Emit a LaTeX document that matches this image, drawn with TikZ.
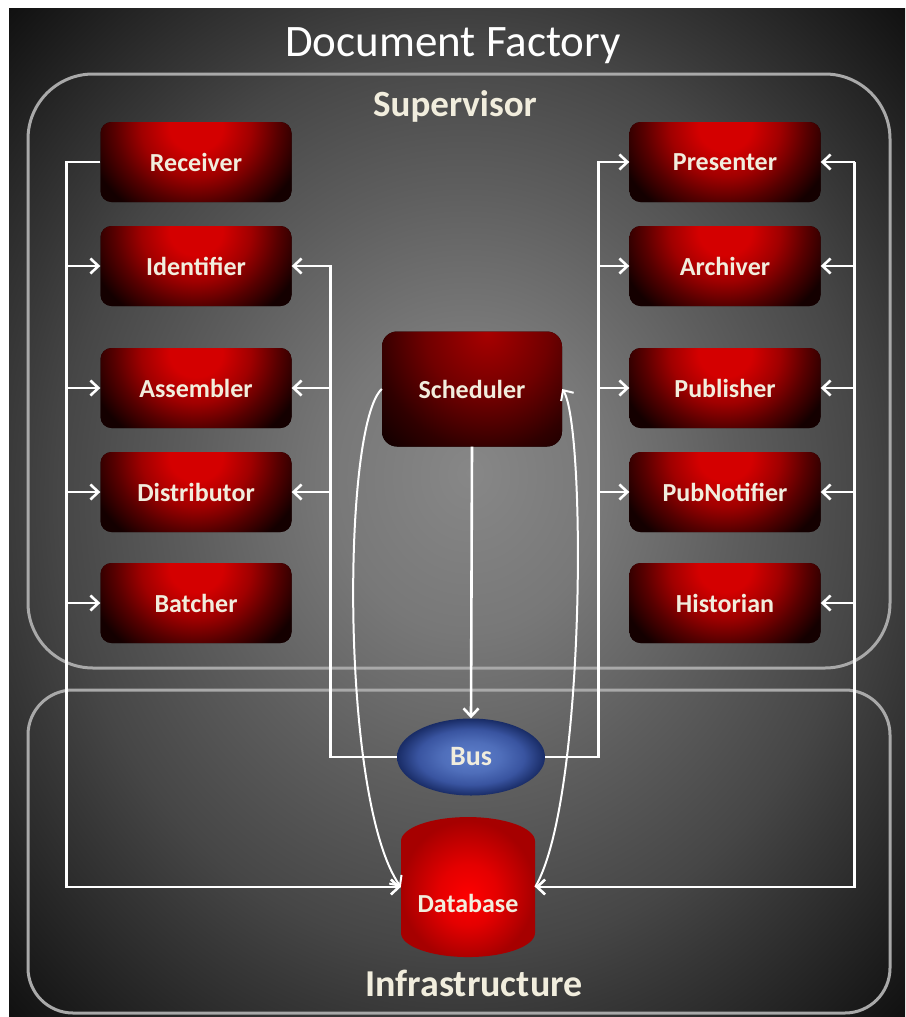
\documentclass[tikz,border=0pt]{standalone}
\usepackage{fontspec}
\setmainfont{Carlito}
\usetikzlibrary{arrows.meta,shapes.geometric}

\definecolor{bgIn}{HTML}{878787}
\definecolor{bgMid}{HTML}{787878}
\definecolor{bgOut}{HTML}{5E5E5E}
\definecolor{bgEdge}{HTML}{464646}
\definecolor{bgRim}{HTML}{373737}
\definecolor{bgCorner}{HTML}{0E0E0E}
\definecolor{frameGray}{HTML}{A9A9A9}
\definecolor{labelCream}{HTML}{F1EDDD}
\definecolor{agentHi}{HTML}{D40000}
\definecolor{agentMid}{HTML}{A00000}
\definecolor{agentLo}{HTML}{580000}
\definecolor{agentDeep}{HTML}{140000}
\definecolor{schedHi}{HTML}{A80000}
\definecolor{schedMid}{HTML}{700000}
\definecolor{schedLo}{HTML}{300000}
\definecolor{schedDeep}{HTML}{0C0000}
\definecolor{busHi}{HTML}{5D7ECA}
\definecolor{busMid}{HTML}{4F6EBA}
\definecolor{busLo}{HTML}{3954A0}
\definecolor{busDeep}{HTML}{192C66}
\definecolor{dbHi}{HTML}{FF0000}
\definecolor{dbMid}{HTML}{E40000}
\definecolor{dbLo}{HTML}{A60000}

% shadings (the 50bp square in the middle covers the path)
\pgfdeclareradialshading{bgShade}{\pgfpoint{0.75bp}{2bp}}{color(0bp)=(bgIn); color(7.5bp)=(bgMid); color(15bp)=(bgOut); color(22.5bp)=(bgEdge); color(26bp)=(bgRim); color(36bp)=(bgCorner)}
\pgfdeclareradialshading{agentGlow}{\pgfpoint{0bp}{0bp}}{color(0bp)=(agentHi); color(6bp)=(agentHi); color(12.5bp)=(agentMid); color(18.5bp)=(agentLo); color(25bp)=(agentDeep); color(36bp)=(agentDeep)}
\pgfdeclareradialshading{schedGlow}{\pgfpoint{0bp}{0bp}}{color(0bp)=(schedHi); color(10bp)=(schedMid); color(18bp)=(schedLo); color(25bp)=(schedDeep); color(36bp)=(schedDeep)}
\pgfdeclareradialshading{busShade}{\pgfpoint{0bp}{0bp}}{color(0bp)=(busHi); color(10bp)=(busMid); color(18bp)=(busLo); color(25bp)=(busDeep); color(36bp)=(busDeep)}
\pgfdeclareradialshading{dbShade}{\pgfpoint{0bp}{-4bp}}{color(0bp)=(dbHi); color(11bp)=(dbMid); color(25bp)=(dbLo); color(37bp)=(dbLo)}

\begin{document}
\begin{tikzpicture}[x=1pt,y=-1pt,
	>={Straight Barb[length=8pt,width=15pt]},
	agent/.style={rectangle, rounded corners=11pt, minimum width=191pt, minimum height=80pt,
		fill=agentDeep, text=labelCream, font=\bfseries\fontsize{26}{30}\selectfont,
		path picture={\shade[shading=agentGlow]
			([xshift=-110pt,yshift=95pt]path picture bounding box.north)
			rectangle ([xshift=110pt,yshift=-105pt]path picture bounding box.north);}},
	sched/.style={rectangle, rounded corners=15pt, minimum width=180pt, minimum height=115pt,
		fill=schedDeep, text=labelCream, font=\bfseries\fontsize{26}{30}\selectfont,
		path picture={\shade[shading=schedGlow]
			([xshift=-140pt,yshift=165pt]path picture bounding box.north)
			rectangle ([xshift=170pt,yshift=-165pt]path picture bounding box.north);}},
	busnode/.style={ellipse, minimum width=148pt, minimum height=77pt, shading=busShade,
		text=labelCream, font=\bfseries\fontsize{28}{32}\selectfont},
	dbnode/.style={cylinder, shape border rotate=90, aspect=0.45, minimum width=134pt,
		minimum height=140pt, shading=dbShade, text=labelCream, font=\bfseries\fontsize{26}{30}\selectfont},
	area/.style={draw=frameGray, line width=3pt},
	wire/.style={draw=white, line width=2.6pt},
	loop/.style={draw=white, line width=2pt}]

	% Background
	\fill[white] (0,0) rectangle (905,1017);
	\shade[shading=bgShade] (9,8) rectangle (905,1017);

	% Areas
	\draw[area, rounded corners=65pt] (28,74) rectangle (890,668);
	\draw[area, rounded corners=45pt] (28,690) rectangle (890,1013);
	\node[white, font=\fontsize{45}{50}\selectfont] (title) at (453,46) {Document Factory};
	\node[labelCream, font=\bfseries\fontsize{37}{42}\selectfont] (sup) at (455,106) {Supervisor};
	\node[labelCream, font=\bfseries\fontsize{38}{42}\selectfont] (infra) at (474,983) {Infrastructure};

	% Left column
	\node[agent] (rcv) at (196,162) {Receiver};
	\node[agent] (idf) at (196,266) {Identifier};
	\node[agent] (asm) at (196,388) {Assembler};
	\node[agent] (dst) at (196,492) {Distributor};
	\node[agent] (bat) at (196,603) {Batcher};
	% Right column
	\node[agent] (prs) at (725,162) {Presenter};
	\node[agent] (arc) at (725,266) {Archiver};
	\node[agent] (pub) at (725,388) {Publisher};
	\node[agent] (pbn) at (725,492) {PubNotifier};
	\node[agent] (his) at (725,603) {Historian};
	% Middle
	\node[sched] (sch) at (472,389) {Scheduler};
	\node[busnode] (bus) at (471,757) {Bus};
	\node[dbnode] (db) at (468,903) {Database};
	\coordinate (dbin) at ([yshift=16pt]db.west);
	\coordinate (dbout) at ([yshift=16pt]db.east);

	% Left spine
	\draw[wire,->] (rcv.west) -- ([xshift=-34pt]rcv.west) |- (dbin);
	\foreach \n in {idf,asm,dst,bat}
		\draw[wire,->] ([xshift=-34pt]\n.west) -- (\n.west);
	% Bus to left column
	\draw[wire,->] (bus.west) -| ([xshift=39pt]idf.east) -- (idf.east);
	\foreach \n in {asm,dst}
		\draw[wire,->] ([xshift=39pt]\n.east) -- (\n.east);
	% Bus to right column
	\draw[wire,->] (bus.east) -| ([xshift=-31pt]prs.west) -- (prs.west);
	\foreach \n in {arc,pub,pbn}
		\draw[wire,->] ([xshift=-31pt]\n.west) -- (\n.west);
	% Right spine
	\draw[wire,->] ([xshift=34pt]prs.east) |- (dbout);
	\foreach \n in {prs,arc,pub,pbn,his}
		\draw[wire,->] ([xshift=34pt]\n.east) -- (\n.east);

	% Scheduler
	\draw[wire,->] (sch.south) -- (bus.north);
	\draw[loop,->] (sch.west) .. controls (342,425) and (340,800) .. (dbin);
	\draw[loop,->] (dbout) .. controls (586,800) and (586,425) .. (sch.east);

\end{tikzpicture}
\end{document}
